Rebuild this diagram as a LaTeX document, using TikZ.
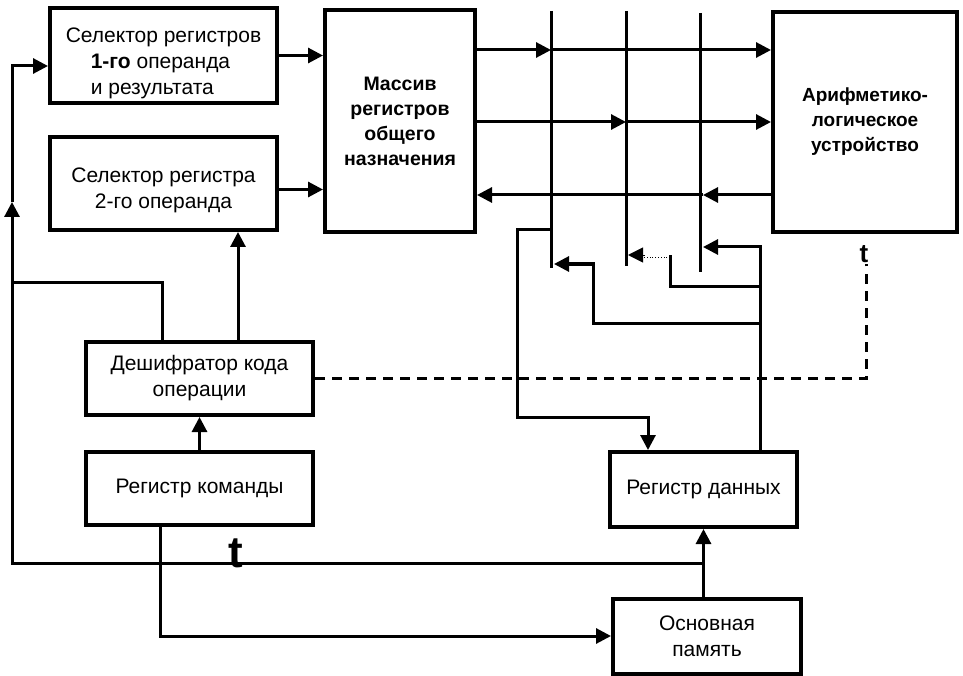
\documentclass[tikz,border=0pt]{standalone}
\usepackage{fontspec}
\setmainfont{Liberation Sans}
\usetikzlibrary{arrows.meta,calc}
\begin{document}
\begin{tikzpicture}[x=1pt,y=-1pt,
  box/.style={draw,line width=4pt,inner sep=0pt,align=center,font=\fontsize{21}{26}\selectfont},
  txt/.style={inner sep=0pt,align=center,font=\fontsize{21}{26}\selectfont},
  boldbox/.style={box,font=\bfseries\fontsize{19.5}{25}\selectfont},
  alubox/.style={box,font=\bfseries\fontsize{19}{25}\selectfont},
  conn/.style={line width=3pt},
  bus/.style={line width=3pt},
  dline/.style={line width=3pt,dash pattern=on 10pt off 7pt},
  tglyph/.style={inner sep=0pt,anchor=base},
  >={Triangle[length=15pt,width=15pt]},
]
\useasboundingbox (0,0) rectangle (963,676);

% boxes
\node[box,minimum width=227pt,minimum height=95pt] (sel1) at (163.5,55.5) {};
\node[txt,align=left] (sel1t) at (163.5,63)
  {Селектор регистров\\\hspace*{25pt}\textbf{1-го} операнда\\\hspace*{25pt}и результата};
\node[box,minimum width=227pt,minimum height=93pt] (sel2) at (163.5,183.5) {};
\node[txt] (sel2t) at (163.5,190) {Селектор регистра\\2-го операнда};
\node[boldbox,minimum width=150pt,minimum height=222pt] (mas) at (400,121)
  {Массив\\регистров\\общего\\назначения};
\node[alubox,minimum width=184pt,minimum height=220pt] (alu) at (865,122)
  {Арифметико-\\логическое\\устройство};
\node[box,minimum width=227pt,minimum height=73pt] (dec) at (199.5,378.5)
  {Дешифратор кода\\операции};
\node[box,minimum width=227pt,minimum height=73pt] (rk) at (199.5,488.5)
  {Регистр команды};
\node[box,minimum width=187pt,minimum height=75pt] (rd) at (703.5,489.5)
  {Регистр данных};
\node[box,minimum width=188pt,minimum height=75pt] (op) at (707,636)
  {Основная\\память};

% helper coordinates
\coordinate (b1t) at (551,11);  \coordinate (b1b) at (551,268);
\coordinate (b2t) at (626,11);  \coordinate (b2b) at (626,266);
\coordinate (b3t) at (700,13);  \coordinate (b3b) at (700,272);
\coordinate (r1) at (0,50);
\coordinate (r2) at (0,122);
\coordinate (r3) at (0,195);

% selectors -> massiv
\draw[conn,->] (sel1.east) -- (sel1.east -| mas.west);
\draw[conn,->] ([yshift=-6pt]sel2.east) -- ([yshift=-6pt]sel2.east -| mas.west);

% bus verticals
\draw[bus] (b1t) -- (b1b);
\draw[bus] (b2t) -- (b2b);
\draw[bus] (b3t) -- (b3b);

% bus rows
\draw[conn,->] (mas.east |- r1) -- (b1t |- r1);
\draw[conn,->] (b1t |- r1) -- (alu.west |- r1);
\draw[conn,->] (mas.east |- r2) -- (b2t |- r2);
\draw[conn,->] (b2t |- r2) -- (alu.west |- r2);
\draw[conn,->] (alu.west |- r3) -- ([xshift=3pt]b3t |- r3);
\draw[conn,->] ([xshift=3pt]b3t |- r3) -- (mas.east |- r3);

% bus 1 -> register data
\coordinate (rdin) at (648,417);
\draw[conn,->] (551,230) -- (517,230) -- (517,417) -- (rdin) -- (rdin |- rd.north);

% register data -> buses
\coordinate (rdout) at (760,452);
\draw[conn,->] (rdout) -- (760,247) -- ([xshift=3pt]b3t |- 0,247);
\draw[conn] (760,286) -- (670,286) -- (670,255);
\draw[line width=0.8pt,dotted] (670,257) -- (640,257);
\draw[->,line width=0.5pt] (645,255) -- (628,255);
\draw[conn,->] (760,323) -- (593,323) -- (593,264) -- (554,264);

% dashed control line to ALU
\draw[dline] (dec.east) -- (866,378.5) -- (866,264);
\node[tglyph,font=\bfseries\fontsize{26}{26}\selectfont] (t2) at (864,262) {t};

% memory -> register data
\draw[conn,->] (rd.south |- op.north) -- (rd.south);
\coordinate (y563) at (0,563);
\draw[conn,->] (rd.south |- y563) -- (12,563) -- (12,202);
\draw[conn,->] (12,202) -- (12,66) -- ([yshift=-10.5pt]sel1.west);
\node[tglyph,font=\bfseries\fontsize{44}{44}\selectfont] (t1) at (236,567) {t};

% decoder links
\draw[conn] ([xshift=-37.5pt]dec.north) |- (12,282);
\draw[conn,->] ([xshift=38.5pt]dec.north) -- ([xshift=38.5pt]dec.north |- sel2.south);
\draw[conn,->] (rk.north) -- (dec.south);

% command register -> memory
\draw[conn,->] ([xshift=-39.5pt]rk.south) |- (op.west);
\end{tikzpicture}
\end{document}
